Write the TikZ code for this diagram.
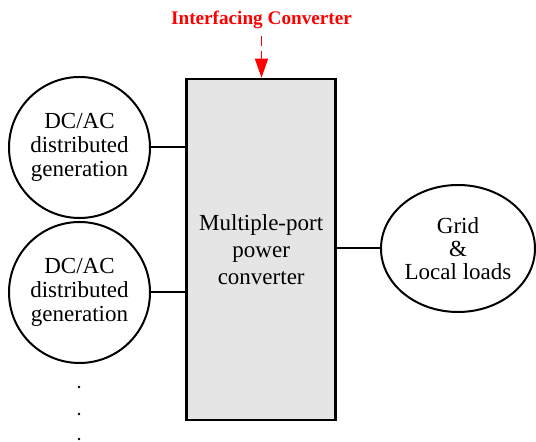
\documentclass[tikz,border=0pt]{standalone}
\usepackage{fontspec}
\setmainfont{Liberation Serif}
\usetikzlibrary{arrows.meta,shapes.geometric}
\begin{document}
\begin{tikzpicture}[x=0.5pt,y=-0.5pt,
  txt/.style={align=center, inner sep=0pt, font=\fontsize{11.5}{12.1}\selectfont},
  gen/.style={txt, draw, circle, line width=1pt, minimum size=70.5pt},
  conv/.style={txt, draw, line width=1.3pt, fill=black!10, minimum width=74.5pt, minimum height=170.5pt, font=\fontsize{11.5}{13.4}\selectfont},
  load/.style={txt, draw, ellipse, line width=1pt, minimum width=77pt, minimum height=63.5pt, font=\fontsize{11.5}{11.5}\selectfont},
  link/.style={line width=1pt},
  tag/.style={text=red, anchor=base, font=\fontsize{9.6}{11}\selectfont\bfseries},
  dot/.style={fill=black}]
\useasboundingbox (0,0) rectangle (536,442);

% title and its dashed pointer
\node[tag] (lbl) at (261.5,25) {Interfacing Converter};

% central converter block
\node[conv] (box) at (261.2,249.5) {Multiple-port\\power\\converter};

% generation units on the left
\node[gen] (g1) at (79.5,147.5) {DC/AC\\distributed\\generation};
\node[gen] (g2) at (79.5,292.5) {DC/AC\\distributed\\generation};

% grid and loads on the right
\node[load] (grid) at (458,248.5) {Grid\\\&\\Local loads};

% connections
\draw[link] (g1.east) -- (g1.east -| box.west);
\draw[link] (g2.east) -- (g2.east -| box.west);
\draw[link] (box.east |- grid.west) -- (grid.west);

\draw[red, line width=0.8pt, dash pattern=on 5pt off 2.5pt,
      -{Triangle[length=9.5pt,width=6.5pt]}] (lbl.south) -- (lbl.south |- box.north);

% further units (ellipsis)
\fill[dot] (79,387) circle (0.7pt);
\fill[dot] (79,414) circle (0.7pt);
\fill[dot] (79,439) circle (0.7pt);
\end{tikzpicture}
\end{document}
